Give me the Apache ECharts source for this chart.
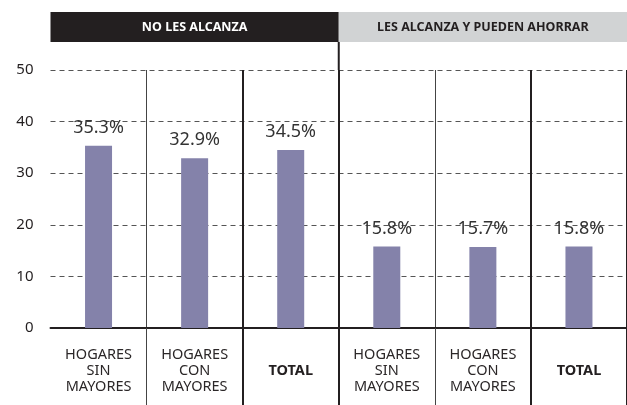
<!DOCTYPE html>
<html>
<head>
<meta charset="utf-8">
<script src="https://cdn.jsdelivr.net/npm/echarts@6/dist/echarts.min.js"></script>
<style>
  html, body { margin: 0; padding: 0; background: #fff; }
  #chart { width: 627px; height: 405px; }
</style>
</head>
<body>
<div id="chart"></div>
<script>
// datos
const categories = ['HOGARES\nSIN\nMAYORES', 'HOGARES\nCON\nMAYORES', 'TOTAL',
                    'HOGARES\nSIN\nMAYORES', 'HOGARES\nCON\nMAYORES', 'TOTAL'];
const values = [35.3, 32.9, 34.5, 15.8, 15.7, 15.8];
const groupTitles = ['NO LES ALCANZA', 'LES ALCANZA Y PUEDEN AHORRAR'];
const yMin = 0, yMax = 50, yStep = 10;

// lineas finas / gruesas entre categorias
const thinAt = [1, 4];
const thickAt = [2, 3, 5];

const FONT = '"Noto Sans", sans-serif';
const DARK = '#231f20';

const chart = echarts.init(document.getElementById('chart'));

const option = {
    animation: false,
    textStyle: { fontFamily: FONT },
    grid: { left: 50.5, top: 70, width: 583, bottom: 77, containLabel: false },
    xAxis: [{
        type: 'category',
        data: categories,
        position: 'bottom',
        axisLine: { show: true, lineStyle: { color: DARK, width: 2 } },
        axisTick: {
            show: true, length: 78, inside: false,
            interval: function (i) { return thinAt.indexOf(i) >= 0; },
            lineStyle: { color: '#444', width: 1 }
        },
        splitLine: {
            show: true,
            interval: function (i) { return thinAt.indexOf(i) >= 0; },
            lineStyle: { color: '#444', width: 1, type: 'solid' }
        },
        axisLabel: {
            interval: 0, margin: 19, color: '#2b2728', fontSize: 14.5, lineHeight: 16,
            fontFamily: FONT,
            formatter: function (v) {
                return v === 'TOTAL' ? '\n{b|TOTAL}' : v;
            },
            rich: { b: { fontWeight: 'bold', fontSize: 14.5, color: DARK, fontFamily: FONT, lineHeight: 16 } }
        }
    }, {
        type: 'category',
        data: categories,
        position: 'bottom',
        axisLine: { show: false },
        axisLabel: { show: false },
        axisTick: {
            show: true, length: 78, inside: false,
            interval: function (i) { return thickAt.indexOf(i) >= 0; },
            lineStyle: { color: DARK, width: 2 }
        },
        splitLine: {
            show: true,
            interval: function (i) { return thickAt.indexOf(i) >= 0; },
            lineStyle: { color: DARK, width: 2, type: 'solid' }
        }
    }],
    yAxis: {
        type: 'value',
        min: yMin, max: yMax, interval: yStep,
        axisLine: { show: false },
        axisTick: { show: false },
        axisLabel: { color: DARK, fontSize: 15, margin: 17, fontFamily: FONT },
        splitLine: { lineStyle: { color: '#555', width: 1, type: [5, 4] } }
    },
    series: [{
        type: 'bar',
        data: values,
        barWidth: 27,
        itemStyle: { color: '#8482aa' },
        z: 3,
        label: {
            show: true, position: 'top', distance: 9,
            color: '#333', fontSize: 18, fontFamily: FONT,
            formatter: function (p) { return p.value.toFixed(1) + '%'; }
        }
    }]
};

chart.setOption(option);

// cabeceras de grupo
const c0 = chart.convertToPixel({ xAxisIndex: 0 }, 0);
const c1 = chart.convertToPixel({ xAxisIndex: 0 }, 1);
const bw = c1 - c0;
const left = c0 - bw / 2;
const topY = chart.convertToPixel({ yAxisIndex: 0 }, yMax);

chart.setOption({
    graphic: [
        {
            type: 'rect', shape: { x: left, y: 12, width: bw * 3, height: 30 },
            style: { fill: DARK }
        },
        {
            type: 'rect', shape: { x: left + bw * 3, y: 12, width: bw * 3, height: 30 },
            style: { fill: '#d1d3d4' }
        },
        {
            type: 'text', x: left + bw * 1.5, y: 27,
            style: { text: groupTitles[0], fill: '#fff', font: 'bold 12.5px ' + FONT, align: 'center', verticalAlign: 'middle' }
        },
        {
            type: 'text', x: left + bw * 4.5, y: 27,
            style: { text: groupTitles[1], fill: DARK, font: 'bold 12.5px ' + FONT, align: 'center', verticalAlign: 'middle' }
        },
        {
            type: 'line', shape: { x1: left + bw * 3, y1: 42, x2: left + bw * 3, y2: topY },
            style: { stroke: DARK, lineWidth: 2 }
        }
    ]
});

window.onresize = function () { chart.resize(); };
</script>
</body>
</html>
